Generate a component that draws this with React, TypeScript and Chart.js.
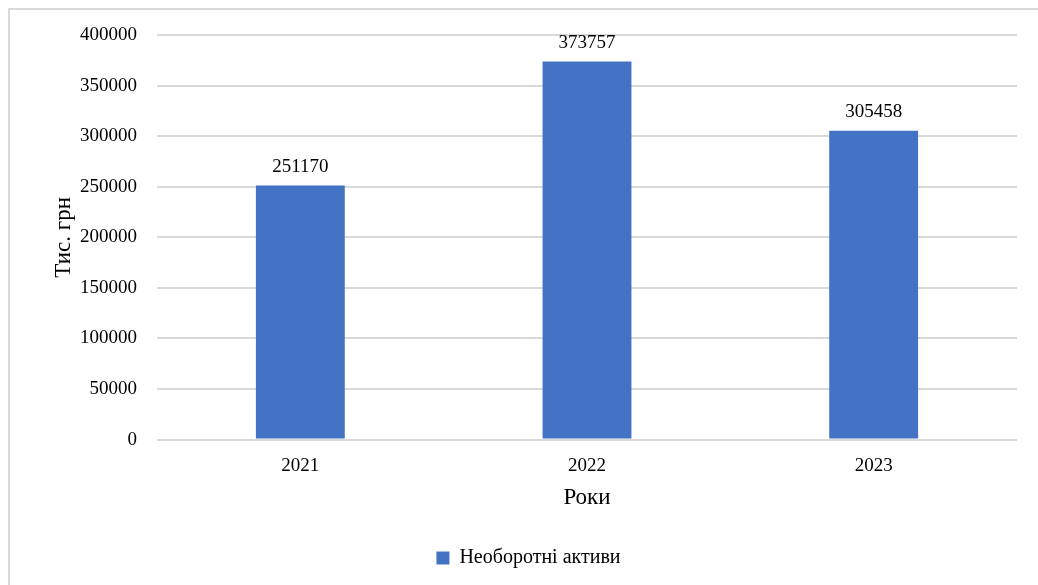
import React, { useEffect, useRef } from "react";
import { Chart, registerables } from "chart.js";

Chart.register(...registerables);

const categories = ["2021", "2022", "2023"];
const seriesName = "Необоротні активи";
const seriesValues = [251170, 373757, 305458];
const yTicks = [0, 50000, 100000, 150000, 200000, 250000, 300000, 350000, 400000];

const FONT = "'Liberation Serif', 'Times New Roman', serif";

const framePlugin = {
  id: "frame",
  beforeDraw(chart: any) {
    const ctx = chart.ctx;
    ctx.save();
    ctx.fillStyle = "#ffffff";
    ctx.fillRect(0, 0, chart.width, chart.height);
    ctx.strokeStyle = "#d9d9d9";
    ctx.lineWidth = 2;
    ctx.strokeRect(9, 9, chart.width + 20, chart.height + 20);
    ctx.restore();
  },
};

const labelPlugin = {
  id: "barLabels",
  afterDatasetsDraw(chart: any) {
    const ctx = chart.ctx;
    ctx.save();
    ctx.font = `19px ${FONT}`;
    ctx.fillStyle = "#000000";
    ctx.textAlign = "center";
    ctx.textBaseline = "bottom";
    chart.data.datasets.forEach((ds: any, di: number) => {
      const meta = chart.getDatasetMeta(di);
      meta.data.forEach((bar: any, i: number) => {
        ctx.fillText(String(ds.data[i]), bar.x, bar.y - 9);
      });
    });
    ctx.restore();
  },
};

export default function App() {
  const ref = useRef<HTMLCanvasElement | null>(null);
  useEffect(() => {
    if (!ref.current) return;
    const chart = new Chart(ref.current, {
      type: "bar",
      data: {
        labels: categories,
        datasets: [
          {
            label: seriesName,
            data: seriesValues,
            backgroundColor: "#4472C4",
            borderWidth: 0,
            categoryPercentage: 1,
            barPercentage: 0.31,
          },
        ],
      },
      options: {
        responsive: false,
        animation: false,
        layout: { padding: { left: 40, right: 21, top: 35, bottom: 7 } },
        plugins: {
          legend: {
            position: "bottom",
            labels: {
              font: { family: FONT, size: 20 },
              color: "#000000",
              boxWidth: 13,
              boxHeight: 13,
              padding: 20,
            },
          },
          tooltip: { enabled: false },
        },
        scales: {
          x: {
            grid: { display: false },
            border: { display: false },
            ticks: { font: { family: FONT, size: 19 }, color: "#000000", padding: 7 },
            title: {
              display: true,
              text: "Роки",
              font: { family: FONT, size: 23 },
              color: "#000000",
              padding: { top: 0, bottom: 16 },
            },
          },
          y: {
            min: 0,
            max: 400000,
            afterBuildTicks(scale: any) {
              scale.ticks = yTicks.map((v) => ({ value: v }));
            },
            afterFit(scale: any) {
              scale.width = 117;
            },
            grid: { color: "#d9d9d9", lineWidth: 2, drawTicks: false },
            border: { display: false },
            ticks: {
              font: { family: FONT, size: 19 },
              color: "#000000",
              padding: 20,
              callback: (v: any) => String(v),
            },
            title: {
              display: true,
              text: "Тис. грн",
              font: { family: FONT, size: 23 },
              color: "#000000",
              padding: { top: 10, bottom: 0 },
            },
          },
        },
      },
      plugins: [framePlugin, labelPlugin],
    });
    return () => chart.destroy();
  }, []);
  return (
    <div style={{ position: "fixed", left: 0, top: 0, width: 1038, height: 585 }}>
      <canvas ref={ref} width={1038} height={585} style={{ display: "block" }} />
    </div>
  );
}
